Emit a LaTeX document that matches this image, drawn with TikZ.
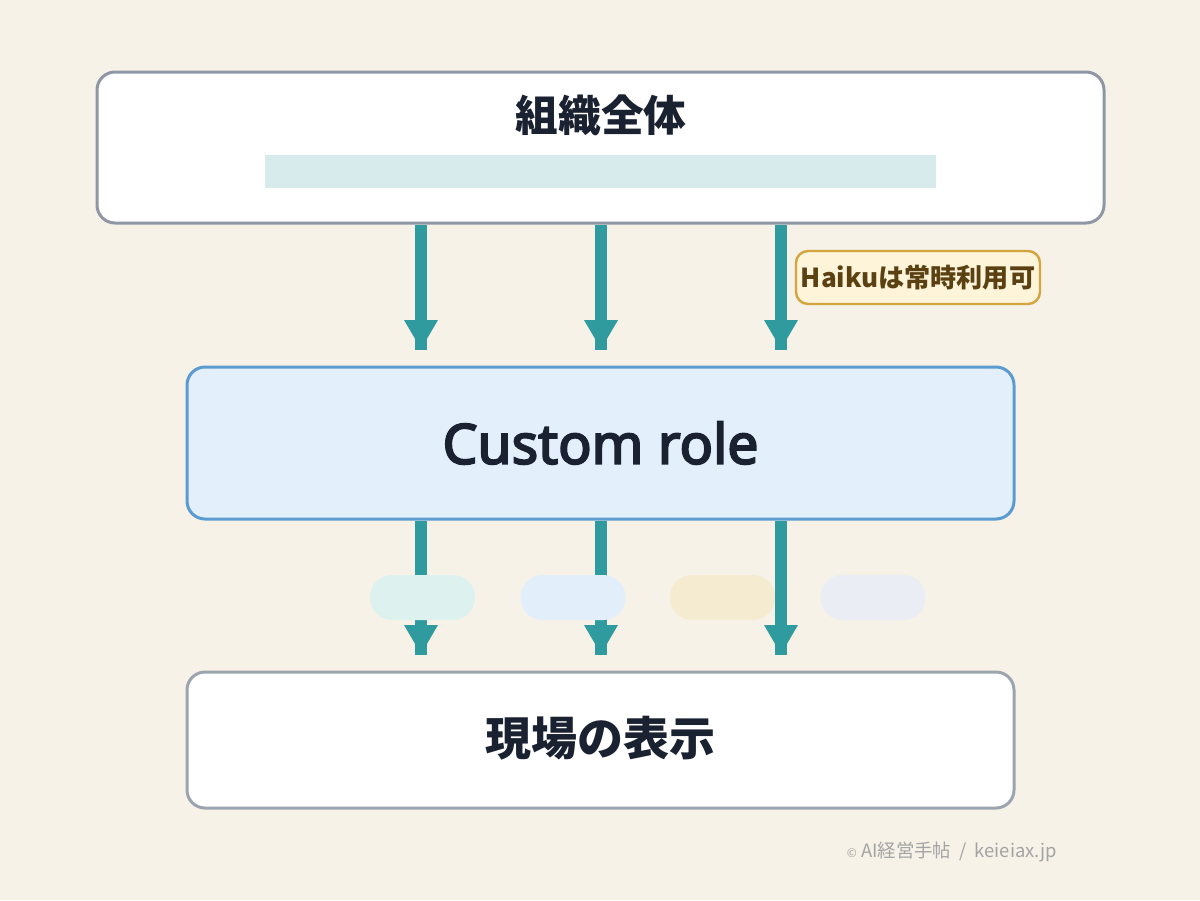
\documentclass[tikz,border=0pt]{standalone}
\usepackage{fontspec}
\setmainfont{Noto Sans CJK JP}
\newfontfamily\medfont{Noto Sans}[FakeBold=3.5]
\usetikzlibrary{arrows.meta}
\definecolor{bgc}{HTML}{F7F2E8}
\definecolor{graybd}{HTML}{8F97A5}
\definecolor{graybd2}{HTML}{9CA4AF}
\definecolor{midfill}{HTML}{E3F0FC}
\definecolor{midbd}{HTML}{5B9BD0}
\definecolor{barc}{HTML}{D7EBEC}
\definecolor{txt}{HTML}{1A2130}
\definecolor{hkfill}{HTML}{FEF4DA}
\definecolor{hkbd}{HTML}{D4A43E}
\definecolor{hktxt}{HTML}{5B4112}
\definecolor{pillA}{HTML}{DDF2EE}
\definecolor{pillB}{HTML}{E2EFFB}
\definecolor{pillC}{HTML}{F5EBD1}
\definecolor{pillD}{HTML}{EAEDF4}
\definecolor{teal}{HTML}{2F9B9F}
\definecolor{foot}{HTML}{A3A3A3}
\tikzset{
  bigbox/.style={rectangle, rounded corners=13.5pt, line width=2.25pt, inner sep=0pt},
  pill/.style={rectangle, rounded corners=16.5pt, minimum width=78.75pt, minimum height=33.75pt, inner sep=0pt},
  shaft/.style={draw=teal, line width=9pt},
  headfill/.style={fill=teal},
  titletext/.style={font=\bfseries\fontsize{32pt}{36pt}\selectfont, text=txt},
}
\begin{document}
\begin{tikzpicture}[x=0.75pt,y=-0.75pt]
\fill[bgc] (0,0) rectangle (1200,900);
\useasboundingbox (0,0) rectangle (1200,900);

% boxes
\node[bigbox, draw=graybd, fill=white, minimum width=755.25pt, minimum height=113.25pt] (top) at (600.5,147.5) {};
\node[titletext] (toptitle) at (601,115) {組織全体};
\node[rectangle, fill=barc, minimum width=503.25pt, minimum height=24.75pt, inner sep=0pt] (bar) at (600.5,171.5) {};

\node[bigbox, draw=midbd, fill=midfill, minimum width=620.25pt, minimum height=114pt,
      font=\medfont\fontsize{41.5pt}{46pt}\selectfont, text=txt] (mid) at (600.5,443) {Custom role};

\node[bigbox, draw=graybd2, fill=white, minimum width=620.25pt, minimum height=102pt] (bot) at (600.5,740) {};
\node[titletext, font=\bfseries\fontsize{34.5pt}{38pt}\selectfont] (bottitle) at (600.5,738) {現場の表示};

% arrow end points
\coordinate (a1) at (421,350);
\coordinate (a2) at (601,350);
\coordinate (a3) at (781,350);
\coordinate (b1) at (421,655);
\coordinate (b2) at (601,655);
\coordinate (b3) at (781,655);

% top arrows
\foreach \p in {a1,a2,a3}{
  \draw[shaft] (top.south -| \p) -- (\p);
  \fill[headfill] ([shift={(-17,-30)}]\p) -- ([shift={(17,-30)}]\p) -- ([shift={(0,-1)}]\p) -- cycle;
}
% bottom arrows 1,2 (behind pills)
\foreach \p in {b1,b2}{
  \draw[shaft] (mid.south -| \p) -- (\p);
  \fill[headfill] ([shift={(-17,-30)}]\p) -- ([shift={(17,-30)}]\p) -- ([shift={(0,-1)}]\p) -- cycle;
}

% pills
\node[pill, fill=pillA] (p1) at (422.5,597.5) {};
\node[pill, fill=pillB] (p2) at (573,597.5) {};
\node[pill, fill=pillC] (p3) at (722.5,597.5) {};
\node[pill, fill=pillD] (p4) at (873,597.5) {};

% bottom arrow 3 (over pill)
\draw[shaft] (mid.south -| b3) -- (b3);
\fill[headfill] ([shift={(-17,-30)}]b3) -- ([shift={(17,-30)}]b3) -- ([shift={(0,-1)}]b3) -- cycle;

% Haiku label
\node[rectangle, rounded corners=9pt, draw=hkbd, fill=hkfill, line width=1.8pt,
      minimum width=183pt, minimum height=39.75pt, inner sep=0pt,
      font=\bfseries\fontsize{19.6pt}{22pt}\selectfont, text=hktxt] (haiku) at (918,277.5) {Haikuは常時利用可};

% footer
\node[anchor=east, inner sep=0pt, text=foot, font=\fontsize{13.8pt}{15pt}\selectfont] (footer) at (1057,852)
  {{\fontsize{9pt}{9pt}\selectfont ©}\ AI経営手帖\ \ /\ \ keieiax.jp};
\end{tikzpicture}
\end{document}
